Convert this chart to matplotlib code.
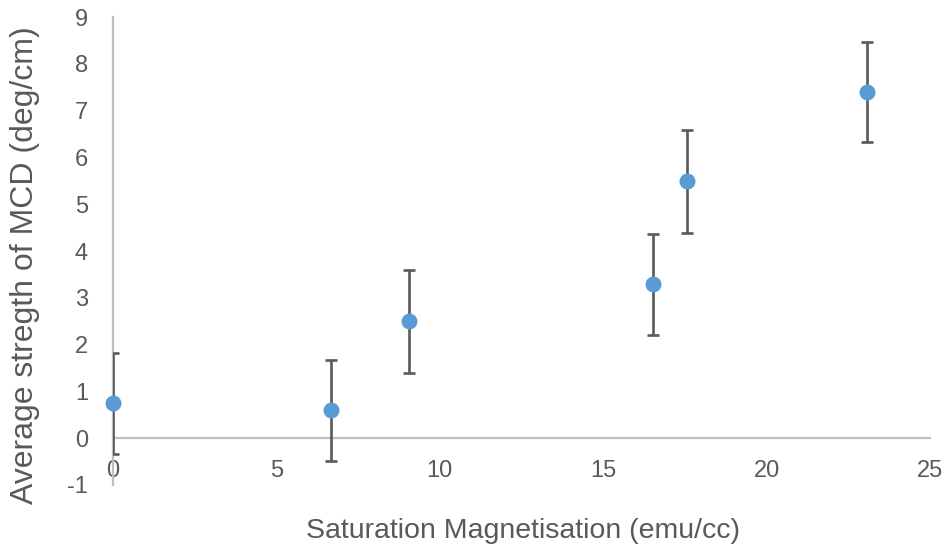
import matplotlib
matplotlib.use("Agg")
import matplotlib.pyplot as plt

x_vals = [0.0, 6.67, 9.06, 16.52, 17.56, 23.07]
y_vals = [0.75, 0.60, 2.50, 3.29, 5.49, 7.39]
y_err = [1.08, 1.08, 1.10, 1.08, 1.10, 1.07]
x_ticks = [0, 5, 10, 15, 20, 25]
y_ticks = [-1, 0, 1, 2, 3, 4, 5, 6, 7, 8, 9]

plt.rcParams['font.family'] = ['Liberation Sans', 'DejaVu Sans']
plt.rcParams['axes.unicode_minus'] = False
gray = '#595959'

fig = plt.figure(figsize=(9.45, 5.51), dpi=100)
ax = fig.add_axes([0.1196, 0.1198, 0.8645, 0.8493])

ax.errorbar(x_vals, y_vals, yerr=y_err, fmt='none', ecolor='#595959',
            elinewidth=1.9, capsize=4.5, capthick=1.9, zorder=3)
ax.plot(x_vals, y_vals, 'o', color='#5B9BD5', markersize=11.5, zorder=4,
        clip_on=False, markeredgewidth=0)

ax.set_xlim(0, 25)
ax.set_ylim(-1, 9)
ax.set_xticks(x_ticks)
ax.set_yticks(y_ticks)
for s in ['top', 'right']:
    ax.spines[s].set_visible(False)
ax.spines['bottom'].set_position(('data', 0))
ax.spines['left'].set_position(('data', 0))
for s in ['bottom', 'left']:
    ax.spines[s].set_color('#BFBFBF')
    ax.spines[s].set_linewidth(1.6)
ax.tick_params(axis='both', length=0, labelsize=17, labelcolor=gray)
ax.tick_params(axis='x', pad=16)
ax.tick_params(axis='y', pad=18)

fig.text(0.553, 0.036, 'Saturation Magnetisation (emu/cc)', ha='center', va='center',
         fontsize=20.5, color=gray)
fig.text(0.026, 0.519, 'Average stregth of MCD (deg/cm)', ha='center', va='center',
         rotation=90, fontsize=23, color=gray)

fig.savefig('out.png', dpi=100)
